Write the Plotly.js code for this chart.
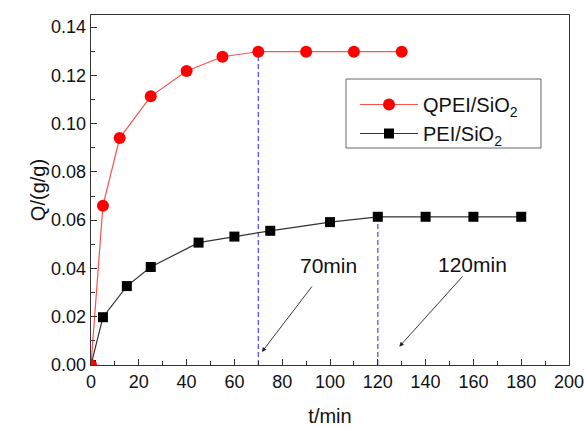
<!DOCTYPE html>
<html><head><meta charset="utf-8">
<script src="https://cdn.plot.ly/plotly-3.0.1.min.js"></script>
<style>html,body{margin:0;padding:0;background:#fff}#chart{width:584px;height:427px}</style>
</head><body><div id="chart"></div>
<script>
const qpeiT = [0, 5, 12, 25, 40, 55, 70, 90, 110, 130];
const qpeiQ = [0, 0.066, 0.094, 0.1113, 0.1218, 0.1277, 0.1298, 0.1298, 0.1298, 0.1298];
const peiT = [0, 5, 15, 25, 45, 60, 75, 100, 120, 140, 160, 180];
const peiQ = [0, 0.0198, 0.0327, 0.0406, 0.0507, 0.0532, 0.0556, 0.0592, 0.0614, 0.0614, 0.0614, 0.0614];
const guideT = [70, 120];
const guideQ = [0.1298, 0.0614];
const labels = ['70min', '120min'];
const labelPos = [[99.5, 0.0414], [159.5, 0.0415]];
const arrowTail = [[92.9, 0.0331], [156, 0.0373]];
const arrowHead = [[71.5, 0.0054], [129, 0.0076]];

const font = {family: 'Arial, "Liberation Sans", sans-serif', color: '#111'};
const traces = [];
guideT.forEach((t, i) => traces.push({
  x: [t, t], y: [0, guideQ[i]], mode: 'lines', showlegend: false, hoverinfo: 'skip',
  line: {color: '#4a4aff', width: 1.2, dash: '5px,3px'}
}));
traces.push({
  x: peiT, y: peiQ, mode: 'lines+markers', name: 'PEI/SiO<sub>2</sub>', legendrank: 2,
  line: {color: '#333333', width: 1.2},
  marker: {symbol: 'square', size: 10, color: '#000000'}
});
traces.push({
  x: qpeiT, y: qpeiQ, mode: 'lines+markers', name: 'QPEI/SiO<sub>2</sub>', legendrank: 1,
  line: {color: '#ff5050', width: 1.2},
  marker: {symbol: 'circle', size: 12, color: '#ff0000'}
});

const annotations = [];
labels.forEach((s, i) => {
  annotations.push({x: labelPos[i][0], y: labelPos[i][1], xref: 'x', yref: 'y', text: s,
    showarrow: false, font: Object.assign({}, font, {size: 21})});
  annotations.push({x: arrowHead[i][0], y: arrowHead[i][1], ax: arrowTail[i][0], ay: arrowTail[i][1],
    xref: 'x', yref: 'y', axref: 'x', ayref: 'y', text: '', showarrow: true,
    arrowhead: 2, arrowsize: 1, arrowwidth: 0.9, arrowcolor: '#222'});
});

const layout = {
  width: 584, height: 427,
  margin: {l: 91, r: 15, t: 15, b: 62},
  paper_bgcolor: '#fff', plot_bgcolor: '#fff',
  font: Object.assign({}, font, {size: 18}),
  xaxis: {
    range: [0, 200], dtick: 20, tick0: 0, ticks: 'inside', ticklen: 6, tickcolor: '#333',
    showgrid: false, zeroline: false, showline: true, linecolor: '#333', linewidth: 1.3, mirror: true,
    minor: {dtick: 10, ticks: 'inside', ticklen: 4, tickcolor: '#333'},
    ticklabeloverflow: 'allow',
    title: {text: 't/min', font: Object.assign({}, font, {size: 20}), standoff: 32},
    tickfont: Object.assign({}, font, {size: 18})
  },
  yaxis: {
    range: [0, 0.145], dtick: 0.02, tick0: 0, tickformat: '.2f', ticks: 'inside', ticklen: 6, tickcolor: '#333',
    showgrid: false, zeroline: false, showline: true, linecolor: '#333', linewidth: 1.3, mirror: true,
    minor: {dtick: 0.01, ticks: 'inside', ticklen: 4, tickcolor: '#333'},
    title: {text: 'Q/(g/g)', font: Object.assign({}, font, {size: 20}), standoff: 0},
    tickfont: Object.assign({}, font, {size: 18})
  },
  legend: {
    x: 0.5523, y: 0.8, xanchor: 'left', yanchor: 'top',
    borderwidth: 0, bgcolor: 'rgba(0,0,0,0)',
    font: Object.assign({}, font, {size: 20}), tracegroupgap: 0, itemwidth: 58
  },
  shapes: [{type: 'rect', xref: 'paper', yref: 'paper', x0: 0.5335, x1: 0.9414, y0: 0.62, y1: 0.8171,
    line: {color: '#666', width: 1}, fillcolor: 'rgba(0,0,0,0)', layer: 'below'}],
  annotations: annotations
};
Plotly.newPlot('chart', traces, layout, {displayModeBar: false, staticPlot: true});
</script></body></html>
